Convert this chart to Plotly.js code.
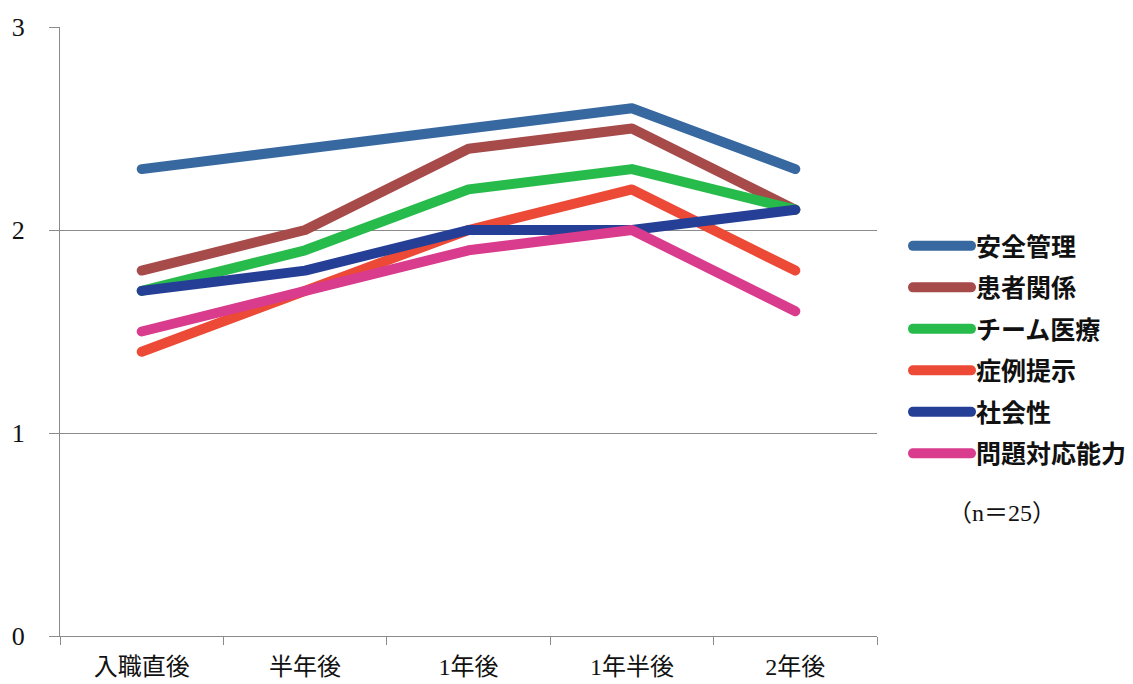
<!DOCTYPE html>
<html>
<head>
<meta charset="utf-8">
<script src="https://cdn.plot.ly/plotly-3.0.1.min.js"></script>
<style>
  html, body { margin: 0; padding: 0; background: #fff; }
  #chart { width: 1133px; height: 684px; }
  .scatterlayer .js-line,
  .legendlines path { stroke-linecap: round !important; stroke-linejoin: round !important; }
</style>
</head>
<body>
<div id="chart"></div>
<script>
// Survey periods (x categories)
const periods = ['入職直後', '半年後', '1年後', '1年半後', '2年後'];

// Mean self-assessment score per item
const anzenKanri   = [2.3, 2.4, 2.5, 2.6, 2.3];   // 安全管理
const kanjaKankei  = [1.8, 2.0, 2.4, 2.5, 2.1];   // 患者関係
const teamIryo     = [1.7, 1.9, 2.2, 2.3, 2.1];   // チーム医療
const shoreiTeiji  = [1.4, 1.7, 2.0, 2.2, 1.8];   // 症例提示
const shakaisei    = [1.7, 1.8, 2.0, 2.0, 2.1];   // 社会性
const mondaiTaio   = [1.5, 1.7, 1.9, 2.0, 1.6];   // 問題対応能力

const seriesNames = ['安全管理', '患者関係', 'チーム医療', '症例提示', '社会性', '問題対応能力'];
const seriesValues = [anzenKanri, kanjaKankei, teamIryo, shoreiTeiji, shakaisei, mondaiTaio];
const seriesColors = ['#3769a0', '#a64a4a', '#27bb4b', '#ec4a36', '#263f96', '#d93b8d'];

const yTicks = [0, 1, 2, 3];
const sampleSize = '（n＝25）';

const serif = '"Liberation Serif", "Noto Sans CJK JP", serif';
const sans = '"Noto Sans CJK JP", "Noto Sans", sans-serif';

const traces = seriesNames.map((name, i) => ({
  type: 'scatter',
  mode: 'lines',
  name: name,
  legendgroup: 'g' + i,
  x: periods,
  y: seriesValues[i],
  line: { color: seriesColors[i], width: 10 },
  hoverinfo: 'skip'
}));

const layout = {
  width: 1133,
  height: 684,
  margin: { l: 60, r: 256, t: 27, b: 48, autoexpand: false },
  paper_bgcolor: '#ffffff',
  plot_bgcolor: '#ffffff',
  showlegend: true,
  legend: {
    x: (908 - 60) / 817,
    xanchor: 'left',
    y: 0.678,
    yanchor: 'top',
    traceorder: 'grouped',
    tracegroupgap: 6,
    itemwidth: 58,
    font: { family: sans, size: 25, color: '#111', weight: 'bold' },
    bgcolor: 'rgba(0,0,0,0)'
  },
  xaxis: {
    type: 'category',
    categoryarray: periods,
    range: [-0.5, periods.length - 0.5],
    automargin: false,
    showgrid: false,
    showline: true,
    linecolor: '#8a8a8a',
    linewidth: 1,
    ticks: 'outside',
    tickson: 'boundaries',
    ticklen: 8,
    tickwidth: 1,
    tickcolor: '#8a8a8a',
    tickfont: { family: serif, size: 24, color: '#111' },
    ticklabelstandoff: 9,
    zeroline: false,
    fixedrange: true
  },
  yaxis: {
    range: [0, 3],
    automargin: false,
    tickvals: yTicks,
    ticktext: yTicks.map(String),
    showgrid: true,
    gridcolor: '#8a8a8a',
    gridwidth: 1,
    showline: true,
    linecolor: '#8a8a8a',
    linewidth: 1,
    ticks: 'outside',
    ticklen: 10,
    tickwidth: 1,
    tickcolor: '#8a8a8a',
    tickfont: { family: serif, size: 26, color: '#111' },
    ticklabelstandoff: 19,
    zeroline: false,
    fixedrange: true
  },
  annotations: [{
    xref: 'paper', yref: 'paper',
    x: (1002 - 60) / 817, y: (636 - 513) / 609,
    xanchor: 'center', yanchor: 'middle',
    text: sampleSize,
    showarrow: false,
    font: { family: serif, size: 24, color: '#111' }
  }]
};

Plotly.newPlot('chart', traces, layout, { displayModeBar: false, staticPlot: true }).then(gd => {
  // round the ends and joints of the thick series lines
  gd.querySelectorAll('.scatterlayer .js-line, .legendlines path').forEach(p => {
    p.style.strokeLinecap = 'round';
    p.style.strokeLinejoin = 'round';
  });
});
</script>
</body>
</html>
